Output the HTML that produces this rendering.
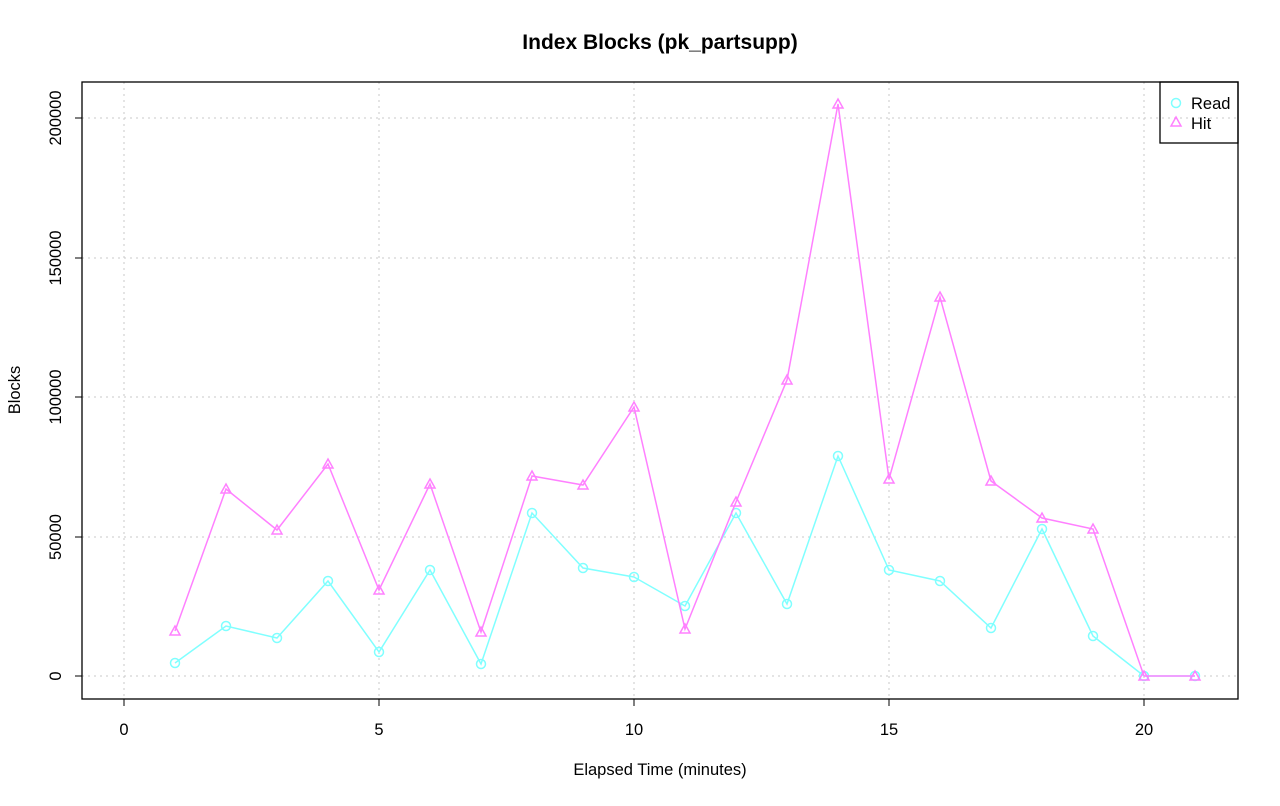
<!DOCTYPE html>
<html><head><style>body{margin:0;background:#fff}</style></head><body>
<svg width="1280" height="801" xmlns="http://www.w3.org/2000/svg" font-family="Liberation Sans, sans-serif">
<rect width="1280" height="801" fill="#fff"/>
<text x="660" y="49" text-anchor="middle" font-weight="bold" font-size="21">Index Blocks (pk_partsupp)</text>
<g stroke="#c8c8c8" stroke-dasharray="2,4" stroke-width="1">
<line x1="124" y1="82" x2="124" y2="699"/><line x1="379" y1="82" x2="379" y2="699"/><line x1="634" y1="82" x2="634" y2="699"/><line x1="889" y1="82" x2="889" y2="699"/><line x1="1144" y1="82" x2="1144" y2="699"/>
<line x1="82" y1="676" x2="1238" y2="676"/><line x1="82" y1="537" x2="1238" y2="537"/><line x1="82" y1="397" x2="1238" y2="397"/><line x1="82" y1="258" x2="1238" y2="258"/><line x1="82" y1="118" x2="1238" y2="118"/>
</g>
<rect x="82" y="82" width="1156" height="617" fill="none" stroke="#000" stroke-width="1.3"/>
<g stroke="#000"><line x1="124" y1="699" x2="124" y2="706"/><line x1="379" y1="699" x2="379" y2="706"/><line x1="634" y1="699" x2="634" y2="706"/><line x1="889" y1="699" x2="889" y2="706"/><line x1="1144" y1="699" x2="1144" y2="706"/>
<line x1="75" y1="676" x2="82" y2="676"/><line x1="75" y1="537" x2="82" y2="537"/><line x1="75" y1="397" x2="82" y2="397"/><line x1="75" y1="258" x2="82" y2="258"/><line x1="75" y1="118" x2="82" y2="118"/></g>
<g font-size="16.5" text-anchor="middle"><text x="124" y="735">0</text><text x="379" y="735">5</text><text x="634" y="735">10</text><text x="889" y="735">15</text><text x="1144" y="735">20</text>
<text transform="translate(61,676) rotate(-90)">0</text><text transform="translate(61,537) rotate(-90)">50000</text><text transform="translate(61,397) rotate(-90)">100000</text><text transform="translate(61,258) rotate(-90)">150000</text><text transform="translate(61,118) rotate(-90)">200000</text>
<text x="660" y="775">Elapsed Time (minutes)</text><text transform="translate(20,390) rotate(-90)">Blocks</text></g>
<polyline fill="none" stroke="#80ffff" stroke-width="1.5" points="175,663 226,626 277,638 328,581 379,652 430,570 481,664 532,513 583,568 634,577 685,606 736,513 787,604 838,456 889,570 940,581 991,628 1042,529 1093,636 1144,676 1195,676"/>
<g fill="none" stroke="#80ffff" stroke-width="1.5">
<circle cx="175" cy="663" r="4.5"/><circle cx="226" cy="626" r="4.5"/><circle cx="277" cy="638" r="4.5"/><circle cx="328" cy="581" r="4.5"/><circle cx="379" cy="652" r="4.5"/><circle cx="430" cy="570" r="4.5"/><circle cx="481" cy="664" r="4.5"/><circle cx="532" cy="513" r="4.5"/><circle cx="583" cy="568" r="4.5"/><circle cx="634" cy="577" r="4.5"/><circle cx="685" cy="606" r="4.5"/><circle cx="736" cy="513" r="4.5"/><circle cx="787" cy="604" r="4.5"/><circle cx="838" cy="456" r="4.5"/><circle cx="889" cy="570" r="4.5"/><circle cx="940" cy="581" r="4.5"/><circle cx="991" cy="628" r="4.5"/><circle cx="1042" cy="529" r="4.5"/><circle cx="1093" cy="636" r="4.5"/><circle cx="1144" cy="676" r="4.5"/><circle cx="1195" cy="676" r="4.5"/><circle cx="1176" cy="103" r="4.5"/></g>
<polyline fill="none" stroke="#ff80ff" stroke-width="1.5" points="175,631 226,489 277,530 328,464 379,590 430,484 481,632 532,476 583,485 634,407 685,629 736,502 787,380 838,104 889,479 940,297 991,481 1042,518 1093,529 1144,676 1195,676"/>
<g fill="none" stroke="#ff80ff" stroke-width="1.5">
<path d="M175,626l5,9h-10z M226,484l5,9h-10z M277,525l5,9h-10z M328,459l5,9h-10z M379,585l5,9h-10z M430,479l5,9h-10z M481,627l5,9h-10z M532,471l5,9h-10z M583,480l5,9h-10z M634,402l5,9h-10z M685,624l5,9h-10z M736,497l5,9h-10z M787,375l5,9h-10z M838,99l5,9h-10z M889,474l5,9h-10z M940,292l5,9h-10z M991,476l5,9h-10z M1042,513l5,9h-10z M1093,524l5,9h-10z M1144,671l5,9h-10z M1195,671l5,9h-10z M1176,117l5,9h-10z"/></g>
<rect x="1160" y="82" width="78" height="61" fill="none" stroke="#000" stroke-width="1.3"/>
<text x="1191" y="109" font-size="16.5">Read</text><text x="1191" y="129" font-size="16.5">Hit</text>
</svg>
</body></html>
